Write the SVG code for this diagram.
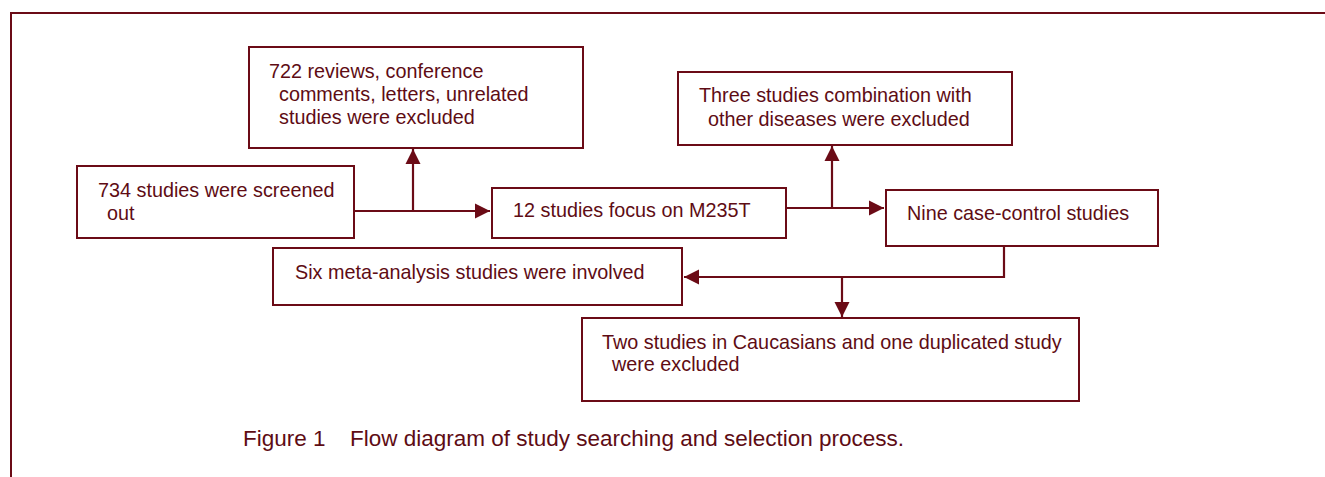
<svg xmlns="http://www.w3.org/2000/svg" width="1325" height="477" viewBox="0 0 1325 477">
<style>
.box{fill:#fff;stroke:#6b0b16;stroke-width:2}
.t{font-family:"Liberation Sans",Arial,sans-serif;font-size:19.8px;fill:#5e0c14}
.cap{font-family:"Liberation Sans",Arial,sans-serif;font-size:22.5px;fill:#5e0c14}
.c{fill:none;stroke:#6b0b16;stroke-width:2.2}
</style>
<defs>
<marker id="ah" markerUnits="userSpaceOnUse" markerWidth="16" markerHeight="16" viewBox="0 0 16 16" refX="15" refY="8" orient="auto">
<path d="M0,0.5 L15,8 L0,15.5 Z" fill="#6b0b16"/>
</marker>
</defs>
<rect width="1325" height="477" fill="#fff"/>
<path d="M11,478 V13 H1326" fill="none" stroke="#6b0b16" stroke-width="2"/>
<g id="connectors">
<path class="c" d="M354,211 H490" marker-end="url(#ah)"/>
<path class="c" d="M413,211 V149" marker-end="url(#ah)"/>
<path class="c" d="M786,208 H884" marker-end="url(#ah)"/>
<path class="c" d="M832,208 V146" marker-end="url(#ah)"/>
<path class="c" d="M1004,246 V277 H684" marker-end="url(#ah)"/>
<path class="c" d="M842,277 V317" marker-end="url(#ah)"/>
</g>
<g id="n734">
<rect class="box" x="77" y="166" width="277" height="72"/>
<text class="t" x="98" y="197">734 studies were screened</text>
<text class="t" x="107" y="220">out</text>
</g>
<g id="n722">
<rect class="box" x="249" y="47" width="334" height="101"/>
<text class="t" x="269" y="78">722 reviews, conference</text>
<text class="t" x="279" y="101">comments, letters, unrelated</text>
<text class="t" x="279" y="124">studies were excluded</text>
</g>
<g id="n12">
<rect class="box" x="492" y="188" width="294" height="50"/>
<text class="t" x="513" y="217">12 studies focus on M235T</text>
</g>
<g id="nThree">
<rect class="box" x="678" y="72" width="334" height="73"/>
<text class="t" x="699" y="102">Three studies combination with</text>
<text class="t" x="708" y="126">other diseases were excluded</text>
</g>
<g id="nNine">
<rect class="box" x="886" y="190" width="272" height="56"/>
<text class="t" x="907" y="220">Nine case-control studies</text>
</g>
<g id="nSix">
<rect class="box" x="273" y="248" width="409" height="57"/>
<text class="t" x="295" y="279">Six meta-analysis studies were involved</text>
</g>
<g id="nTwo">
<rect class="box" x="582" y="318" width="497" height="83"/>
<text class="t" x="602" y="349">Two studies in Caucasians and one duplicated study</text>
<text class="t" x="612" y="371">were excluded</text>
</g>
<g id="caption">
<text class="cap" x="243" y="446">Figure 1</text>
<text class="cap" x="350" y="446">Flow diagram of study searching and selection process.</text>
</g>
</svg>
